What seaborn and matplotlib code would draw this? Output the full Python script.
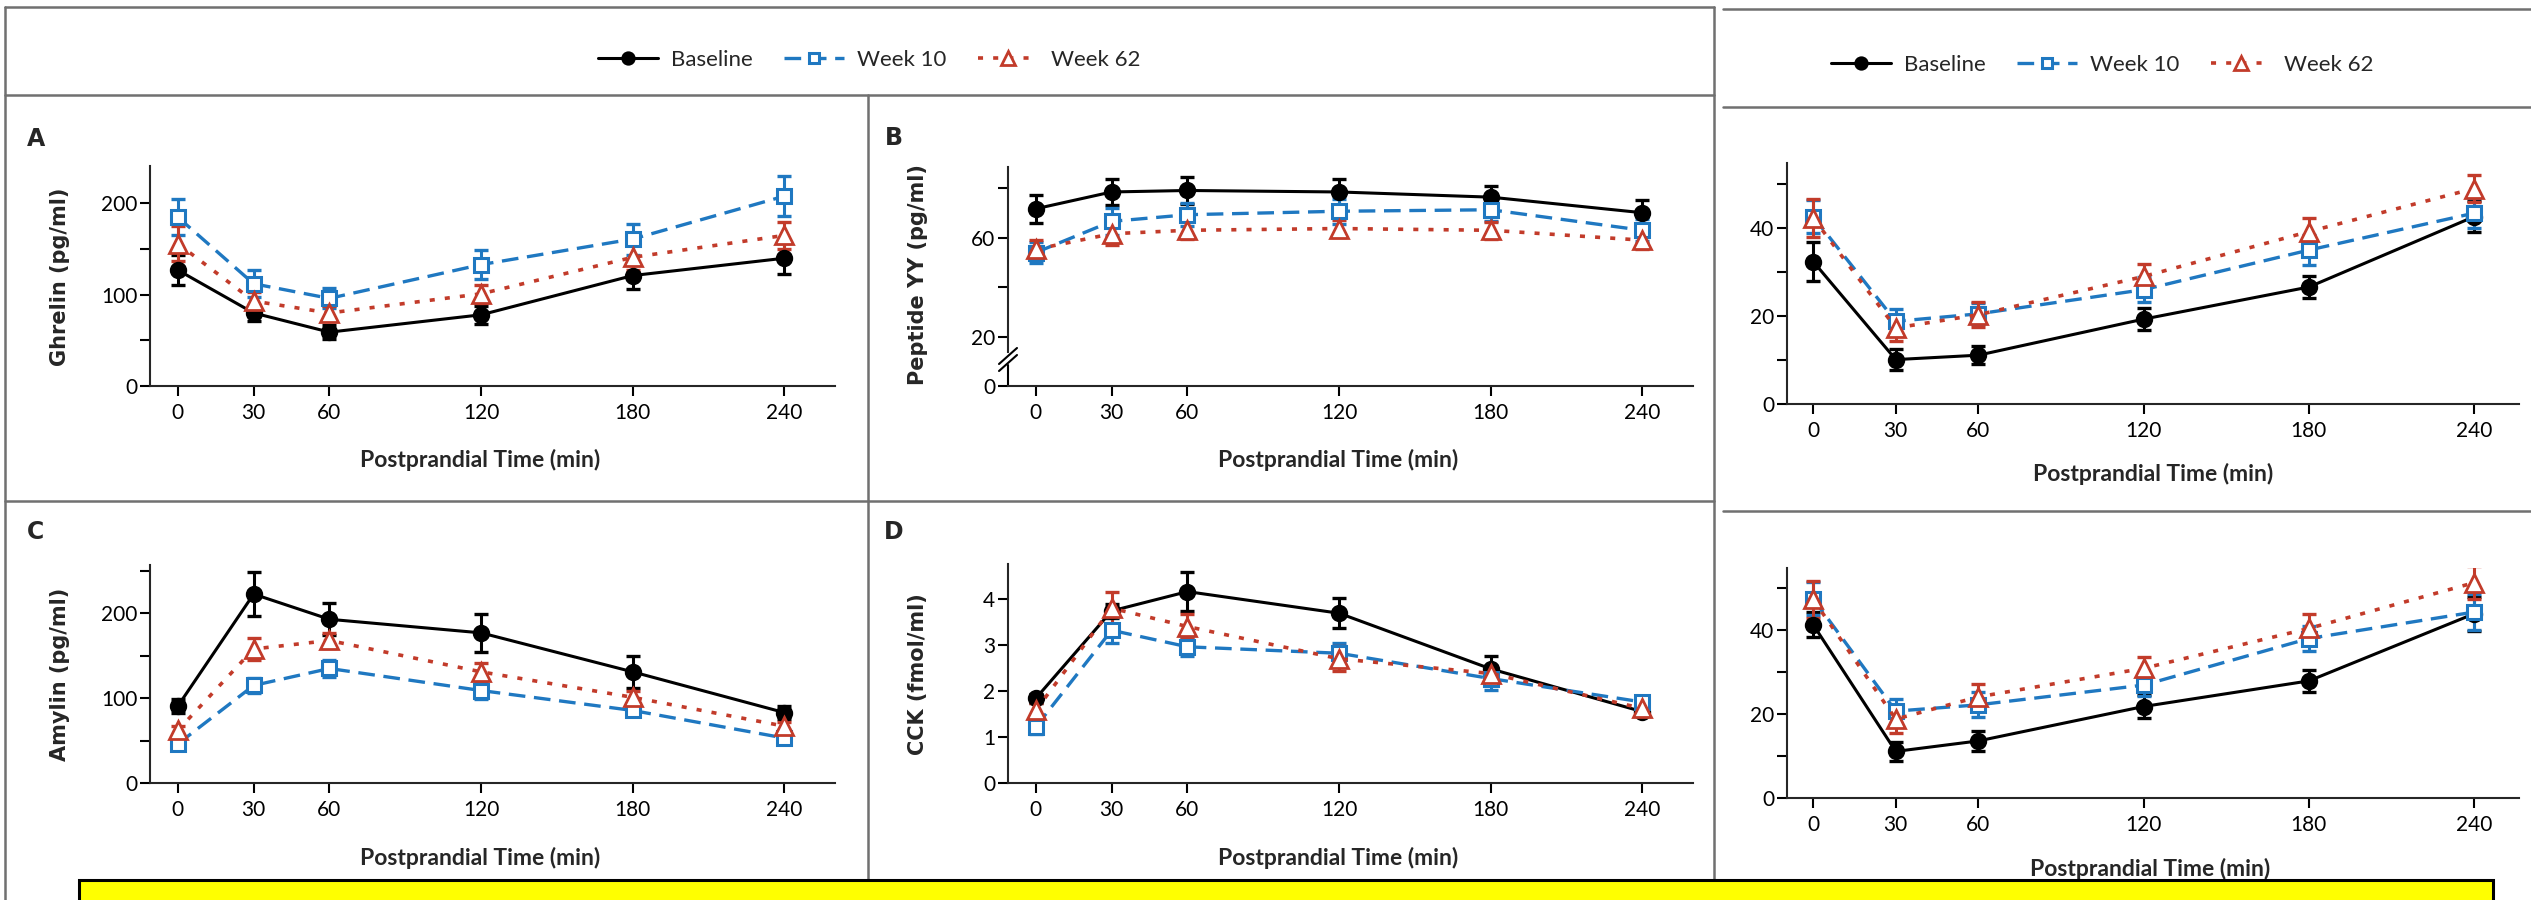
import numpy as np
import pandas as pd
import matplotlib
matplotlib.use("Agg")
import matplotlib.pyplot as plt
import seaborn as sns
from matplotlib.lines import Line2D
from matplotlib.patches import Rectangle

# ---------------- data ----------------
times = [0, 30, 60, 120, 180, 240]
time_labels = ["0", "30", "60", "120", "180", "240"]
groups = ["Baseline", "Week 10", "Week 62"]

ghrelin_base = [127, 80, 59, 78, 121, 140]
ghrelin_base_se = [16, 9, 8, 10, 15, 17]
ghrelin_w10 = [185, 112, 96, 133, 161, 208]
ghrelin_w10_se = [20, 15, 11, 16, 17, 22]
ghrelin_w62 = [156, 93, 80, 101, 141, 165]
ghrelin_w62_se = [19, 10, 8, 10, 14, 15]

pyy_base = [71.7, 78.5, 79.1, 78.5, 76.4, 70.1]
pyy_base_se = [5.7, 5.3, 5.5, 5.3, 4.5, 5.3]
pyy_w10 = [54.0, 66.6, 69.3, 70.7, 71.3, 63.0]
pyy_w10_se = [4.4, 5.5, 4.7, 5.0, 4.5, 4.4]
pyy_w62 = [55.3, 61.6, 63.0, 63.7, 63.0, 59.0]
pyy_w62_se = [3.8, 4.4, 3.6, 3.4, 3.5, 3.5]

amylin_base = [90.6, 222.7, 193, 177, 131, 83]
amylin_base_se = [8, 26, 19, 22, 19, 8]
amylin_w10 = [46, 115, 135, 109, 85.5, 53]
amylin_w10_se = [5, 8.5, 10, 10, 6, 5]
amylin_w62 = [62, 158, 168, 131, 101, 67]
amylin_w62_se = [5, 13, 9, 10, 7, 5]

cck_base = [1.84, 3.74, 4.16, 3.69, 2.48, 1.55]
cck_base_se = [0.10, 0.15, 0.43, 0.33, 0.28, 0.10]
cck_w10 = [1.22, 3.32, 2.96, 2.82, 2.27, 1.76]
cck_w10_se = [0.15, 0.28, 0.20, 0.23, 0.25, 0.12]
cck_w62 = [1.58, 3.80, 3.40, 2.70, 2.38, 1.62]
cck_w62_se = [0.15, 0.35, 0.28, 0.27, 0.16, 0.15]

rtop_base = [32.4, 10.1, 11.1, 19.3, 26.6, 42.6]
rtop_base_se = [4.5, 2.3, 2.0, 2.5, 2.5, 3.5]
rtop_w10 = [42.6, 18.8, 20.5, 26.0, 35.0, 43.4]
rtop_w10_se = [3.8, 2.8, 2.4, 2.8, 3.5, 3.4]
rtop_w62 = [42.3, 17.3, 20.3, 29.0, 39.2, 49.0]
rtop_w62_se = [4.4, 3.0, 2.9, 2.8, 3.0, 3.0]

rbot_base = [41.3, 11.1, 13.6, 21.8, 27.9, 43.9]
rbot_base_se = [3.0, 2.2, 2.4, 2.8, 2.7, 4.0]
rbot_w10 = [47.5, 20.7, 22.2, 26.9, 38.0, 44.3]
rbot_w10_se = [4.0, 2.8, 3.0, 2.7, 3.0, 4.2]
rbot_w62 = [47.3, 18.8, 24.1, 30.9, 40.4, 51.3]
rbot_w62_se = [4.3, 3.2, 3.0, 2.8, 3.4, 4.0]

# ---------------- style ----------------
sns.set_style("ticks")
W, H = 2531, 900
DPI = 100
TICK_FONT = ["Lato", "DejaVu Sans"]
plt.rcParams["font.family"] = TICK_FONT
plt.rcParams.update({
    "axes.linewidth": 1.5,
    "xtick.major.width": 1.5, "ytick.major.width": 1.5,
    "xtick.major.size": 7.2, "ytick.major.size": 7.2,
    "xtick.color": "black", "ytick.color": "black",
    "xtick.labelsize": 15, "ytick.labelsize": 15,
    "xtick.major.pad": 5, "ytick.major.pad": 2,
})

BLUE = "#1f78c1"
RED = "#c23b2a"
styles = {
    "Baseline": dict(color="black", marker="o", ms=11, mfc="black", mec="black", mew=1.5,
                     ls="-", lw=2.2),
    "Week 10": dict(color=BLUE, marker="s", ms=9.5, mfc="white", mec=BLUE, mew=2.2,
                    ls=(0, (5, 2.6)), lw=2.4),
    "Week 62": dict(color=RED, marker="^", ms=12.5, mfc="white", mec=RED, mew=2.0,
                    ls=(0, (1.4, 2.8)), lw=2.6),
}

fig = plt.figure(figsize=(W / DPI, H / DPI), dpi=DPI)


def fx(x):
    return x / W


def fy(y):
    return 1 - y / H


def px_axes(x0, x1, y0, y1):
    return fig.add_axes([x0 / W, 1 - y1 / H, (x1 - x0) / W, (y1 - y0) / H])


panels = [
    dict(box=(150, 835, 166, 386), xlim=(-11, 260), ylim=(0, 241),
         yticks=[0, 50, 100, 150, 200], ylabels=["0", "", "100", "", "200"],
         data=[(ghrelin_base, ghrelin_base_se), (ghrelin_w10, ghrelin_w10_se), (ghrelin_w62, ghrelin_w62_se)]),
    dict(box=(1008, 1693, 167, 386), xlim=(-11, 260), ylim=(0, 88.6),
         yticks=[0, 20, 40, 60, 80], ylabels=["0", "20", "", "60", ""], brk=True,
         data=[(pyy_base, pyy_base_se), (pyy_w10, pyy_w10_se), (pyy_w62, pyy_w62_se)]),
    dict(box=(150, 835, 565, 783), xlim=(-11, 260), ylim=(0, 257),
         yticks=[0, 50, 100, 150, 200, 250], ylabels=["0", "", "100", "", "200", ""],
         data=[(amylin_base, amylin_base_se), (amylin_w10, amylin_w10_se), (amylin_w62, amylin_w62_se)]),
    dict(box=(1008, 1693, 564, 783), xlim=(-11, 260), ylim=(0, 4.76),
         yticks=[0, 1, 2, 3, 4], ylabels=["0", "1", "2", "3", "4"],
         data=[(cck_base, cck_base_se), (cck_w10, cck_w10_se), (cck_w62, cck_w62_se)]),
    dict(box=(1787, 2519, 163, 404), xlim=(-9.5, 256.3), ylim=(0, 54.8),
         yticks=[0, 10, 20, 30, 40, 50], ylabels=["0", "", "20", "", "40", ""],
         data=[(rtop_base, rtop_base_se), (rtop_w10, rtop_w10_se), (rtop_w62, rtop_w62_se)]),
    dict(box=(1787, 2519, 568, 798), xlim=(-9.5, 256.3), ylim=(0, 54.8),
         yticks=[0, 10, 20, 30, 40, 50], ylabels=["0", "", "20", "", "40", ""],
         data=[(rbot_base, rbot_base_se), (rbot_w10, rbot_w10_se), (rbot_w62, rbot_w62_se)]),
]

for p in panels:
    ax = px_axes(*p["box"])
    ax.set_facecolor("none")
    for g, (vals, se) in zip(groups, p["data"]):
        st = styles[g]
        df = pd.DataFrame({"time": times, "value": vals, "se": se})
        ax.errorbar(df["time"], df["value"], yerr=df["se"], fmt="none", ecolor=st["color"],
                    elinewidth=2.2, capsize=5, capthick=2.4, zorder=2)
        sns.lineplot(data=df, x="time", y="value", ax=ax, color=st["color"],
                     marker=st["marker"], markersize=st["ms"], markerfacecolor=st["mfc"],
                     markeredgecolor=st["mec"], markeredgewidth=st["mew"],
                     linestyle=st["ls"], linewidth=st["lw"], errorbar=None, zorder=3)
    ax.set_xlim(*p["xlim"])
    ax.set_ylim(*p["ylim"])
    ax.set_xticks(times)
    ax.set_xticklabels(time_labels)
    ax.set_yticks(p["yticks"])
    ax.set_yticklabels(p["ylabels"])
    ax.set_xlabel("")
    ax.set_ylabel("")
    for s in ["top", "right"]:
        ax.spines[s].set_visible(False)
    if p.get("brk"):
        hpx = p["box"][3] - p["box"][2]
        wpx = p["box"][1] - p["box"][0]
        top = p["ylim"][1]
        lo_end = 21 / hpx * top
        hi_start = 34 / hpx * top
        ax.spines["left"].set_bounds(hi_start, top)
        ax.axvline(p["xlim"][0], ymin=0, ymax=lo_end / top, color="black", lw=1.5, clip_on=False)
        for cy in (23, 30):
            ax.plot([-9 / wpx, 9 / wpx], [(cy - 8) / hpx, (cy + 8) / hpx], transform=ax.transAxes,
                    color="black", lw=1.5, clip_on=False)

# ---------------- text ----------------
BOLD = ["DejaVu Sans"]
for letter, x, y in [("A", 27, 146), ("B", 885, 145), ("C", 27, 539), ("D", 884, 539)]:
    fig.text(fx(x), fy(y), letter, fontsize=17, fontweight="bold", family=BOLD,
             ha="left", va="baseline")

for lab, x, y in [("Ghrelin (pg/ml)", 60, 277), ("Peptide YY (pg/ml)", 918, 275),
                  ("Amylin (pg/ml)", 60, 674), ("CCK (fmol/ml)", 918, 674)]:
    fig.text(fx(x), fy(y), lab, fontsize=15, fontweight="bold", family=BOLD,
             rotation=90, ha="center", va="center")

for x, y in [(480, 460), (1338, 460), (480, 858), (1338, 858), (2153, 474), (2150, 869)]:
    fig.text(fx(x), fy(y), "Postprandial Time (min)", fontsize=16.5, fontweight="bold",
             ha="center", va="center")

# ---------------- legends ----------------
handles = [Line2D([], [], color=styles[g]["color"], marker=styles[g]["marker"],
                  markersize=styles[g]["ms"] * 0.8, markerfacecolor=styles[g]["mfc"],
                  markeredgecolor=styles[g]["mec"], markeredgewidth=styles[g]["mew"],
                  linestyle=styles[g]["ls"], linewidth=styles[g]["lw"]) for g in groups]
for cx, cy in [(869, 60), (2102, 65)]:
    fig.legend(handles, groups, loc="center", bbox_to_anchor=(fx(cx), fy(cy)), ncol=3,
               frameon=False, handlelength=2.7, handletextpad=0.6, columnspacing=1.4,
               fontsize=16)

# ---------------- frame lines ----------------
GRAY = "#707070"
FLW = 1.8


def hline(x0, x1, y):
    fig.add_artist(Line2D([fx(x0), fx(x1)], [fy(y), fy(y)], color=GRAY, lw=FLW))


def vline(x, y0, y1):
    fig.add_artist(Line2D([fx(x), fx(x)], [fy(y0), fy(y1)], color=GRAY, lw=FLW))


hline(5, 1714, 7)
hline(5, 1714, 95)
hline(5, 1714, 501)
vline(5, 7, 905)
vline(1714, 7, 905)
vline(868, 95, 905)
hline(1723, 2531, 9)
hline(1723, 2531, 107)
hline(1723, 2531, 511)

# yellow box
fig.add_artist(Rectangle((fx(79), fy(905)), (2493 - 79) / W, (905 - 880) / H,
                         transform=fig.transFigure, facecolor="#ffff00",
                         edgecolor="black", lw=2.2, zorder=20))

fig.savefig("out.png", dpi=DPI)
